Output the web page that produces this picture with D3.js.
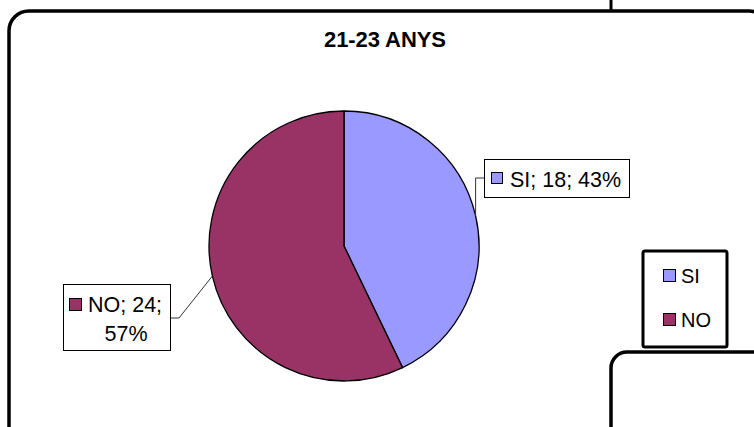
<!DOCTYPE html>
<html>
<head>
<meta charset="utf-8">
<script src="https://cdn.jsdelivr.net/npm/d3@7"></script>
<style>
  body { margin: 0; background: #fff; }
  svg { display: block; font-family: "Liberation Sans", Arial, sans-serif; }
</style>
</head>
<body>
<svg width="754" height="427"></svg>
<script>
const title = "21-23 ANYS";
const categories = ["SI", "NO"];
const values = [18, 24];
const colors = ["#9999FF", "#993366"];

const svg = d3.select("svg");
const cx = 344, cy = 246, r = 135;

// outer chart frame
svg.append("line")
    .attr("x1", 611).attr("x2", 611).attr("y1", 0).attr("y2", 12)
    .attr("stroke", "#000").attr("stroke-width", 3);
svg.append("rect")
    .attr("x", 9).attr("y", 11).attr("width", 760).attr("height", 440)
    .attr("rx", 20).attr("ry", 20)
    .attr("fill", "#fff").attr("stroke", "#000").attr("stroke-width", 3.5);

svg.append("text")
    .attr("x", 385).attr("y", 47)
    .attr("text-anchor", "middle")
    .attr("font-weight", "bold")
    .attr("font-size", 22)
    .attr("textLength", 122)
    .text(title);

const total = d3.sum(values);
const pie = d3.pie().sort(null)(values);
const arc = d3.arc().innerRadius(0).outerRadius(r);

const g = svg.append("g").attr("transform", `translate(${cx},${cy})`);
g.selectAll("path")
    .data(pie)
    .enter()
    .append("path")
    .attr("d", arc)
    .attr("fill", (d, i) => colors[i])
    .attr("stroke", "#000")
    .attr("stroke-width", 1.3);

// data labels
const pct = v => Math.round(v / total * 100) + "%";
function edgePoint(d) {
    const a = (d.startAngle + d.endAngle) / 2;
    return [cx + r * Math.sin(a), cy - r * Math.cos(a)];
}

// SI label
{
    const d = pie[0];
    const [px, py] = edgePoint(d);
    svg.append("polyline")
        .attr("points", [[px, py], [px, 178], [484, 178]].join(" "))
        .attr("fill", "none").attr("stroke", "#333").attr("stroke-width", 1);
    svg.append("rect")
        .attr("x", 484.5).attr("y", 159.5).attr("width", 145).attr("height", 38)
        .attr("fill", "#fff").attr("stroke", "#000").attr("stroke-width", 1);
    svg.append("rect")
        .attr("x", 491.5).attr("y", 172.5).attr("width", 11).attr("height", 11)
        .attr("fill", colors[0]).attr("stroke", "#000").attr("stroke-width", 1);
    svg.append("text")
        .attr("x", 510).attr("y", 187)
        .attr("font-size", 21.5)
        .text(`${categories[0]}; ${values[0]}; ${pct(values[0])}`);
}

// NO label
{
    const d = pie[1];
    const [px, py] = edgePoint(d);
    svg.append("polyline")
        .attr("points", [[px, py], [179, 318], [171, 318]].join(" "))
        .attr("fill", "none").attr("stroke", "#333").attr("stroke-width", 1);
    svg.append("rect")
        .attr("x", 63.5).attr("y", 284.5).attr("width", 107).attr("height", 66)
        .attr("fill", "#fff").attr("stroke", "#000").attr("stroke-width", 1);
    svg.append("rect")
        .attr("x", 69.5).attr("y", 298.5).attr("width", 12).attr("height", 12)
        .attr("fill", colors[1]).attr("stroke", "#000").attr("stroke-width", 1);
    svg.append("text")
        .attr("x", 88).attr("y", 312)
        .attr("font-size", 21.5)
        .text(`${categories[1]}; ${values[1]};`);
    svg.append("text")
        .attr("x", 126).attr("y", 341)
        .attr("text-anchor", "middle")
        .attr("font-size", 21.5)
        .text(pct(values[1]));
}

// legend
svg.append("rect")
    .attr("x", 643).attr("y", 251).attr("width", 84).attr("height", 96)
    .attr("rx", 2)
    .attr("fill", "#fff").attr("stroke", "#000").attr("stroke-width", 3);
const leg = svg.selectAll(".leg")
    .data(categories)
    .enter()
    .append("g")
    .attr("class", "leg")
    .attr("transform", (d, i) => `translate(663,${269 + i * 44})`);
leg.append("rect")
    .attr("x", 0.5).attr("y", 0.5).attr("width", 12).attr("height", 12)
    .attr("fill", (d, i) => colors[i])
    .attr("stroke", "#000").attr("stroke-width", 1);
leg.append("text")
    .attr("x", 18).attr("y", 13.5)
    .attr("font-size", 20)
    .text(d => d);

// neighbouring chart frame, bottom right
svg.append("rect")
    .attr("x", 611).attr("y", 352).attr("width", 200).attr("height", 150)
    .attr("rx", 16).attr("ry", 16)
    .attr("fill", "#fff").attr("stroke", "#000").attr("stroke-width", 3.5);
</script>
</body>
</html>
